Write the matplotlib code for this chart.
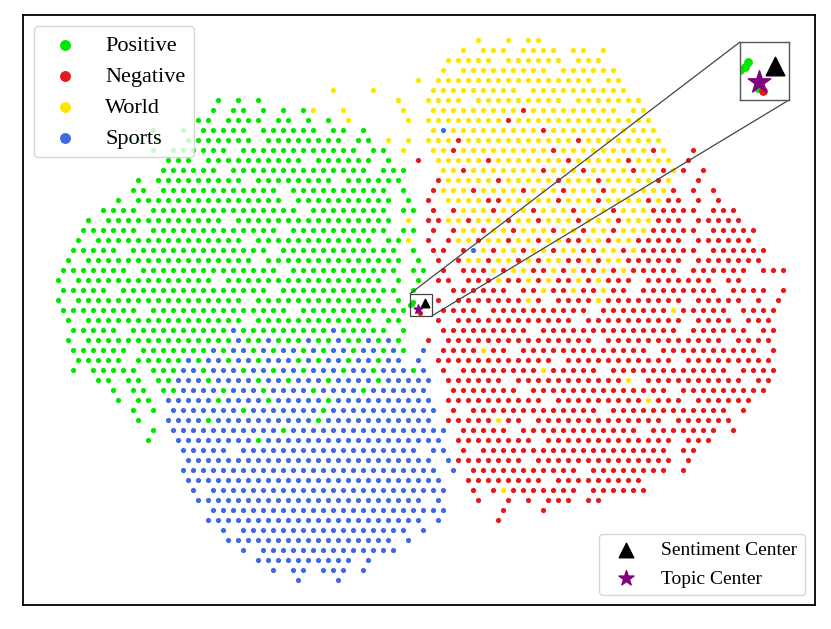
import matplotlib.pyplot as plt
from mpl_toolkits.axes_grid1.inset_locator import mark_inset

plt.rcParams['font.family'] = ['Liberation Serif', 'DejaVu Serif']

labels = ['Positive', 'Negative', 'World', 'Sports']
codes = ['g', 'r', 'y', 'b']
colors = ['#00e600', '#e41a1c', '#ffe600', '#4169e1']

# t-SNE map, top row first.
# each row: list of (first column, class letters), '.' = no point
cloud_rows = [
    [],
    [],
    [(45, "y..y.yy")],
    [(43, "y.yyy.yyyy.yy.y")],
    [(42, "yyyyy.yyyyyy.yyy")],
    [(41, "y.yyyyyyyyy.yyyyyy")],
    [(39, "y.yyyyyyyyyyyyyyyy.yy")],
    [(30, "y...y"), (40, "yyyyyyyyy.yyyyyyyyyy.")],
    [(19, "g.g.g"), (37, "y"), (40, "yyyy.yyyyyyyyy.yyyyyyy")],
    [(18, "g.gg.g.g.g"), (28, "y..y.....y"), (40, "yyyyyyyyyryyyyyyyyy.yy")],
    [(17, "gg.gggg.gg.g.g"), (32, "y.....y"), (40, "yyyyyyyyryyyyyyyyyyyyyy")],
    [(12, "g..g."), (17, "ggggg.gggggg.gg.g"), (40, "ybyyyyyyyyyryyyyyyyyyyy")],
    [(11, "g.g..ggggggg.gggggggg.gg"), (36, "y.y"), (40, "yyyryyyyyyyyyyyryyyyyyyy")],
    [(12, "g.gggggg.gggggggggggg.gg"), (37, "y"), (40, "yyryyyyyyyyyryyyyyyyyyry"), (66, "r")],
    [(14, "ggg.gggggggggg.gggggg.g"), (39, "r."), (41, "yyyyyryyyyyyyryyyyyryyyy"), (66, "r")],
    [(13, "gggggg.gggggggggggggg.ggg"), (41, "yyryyyyyyyryyyryyyyryyry"), (65, "r.r")],
    [(11, "g.ggggggggg.gggggggg.gggggg"), (41, "ryyyyyryyyyyryyyryyyyyry"), (66, ".r")],
    [(10, "gg.gggggggggggg.gggggggggg.g"), (40, "ryyyryyyyryyyryyyryyyyyy"), (64, "r.r.r")],
    [(9, "g.ggggggggggggggg.gggggggggg.g"), (40, "r.yyyyrryyyyyryyyryyyyryrr.r.r")],
    [(7, "gggg.ggggggggggggggg.gggggggg.gg"), (40, "r.ryyyryyyryyyryyyryyyrrrrr.rrr")],
    [(6, "g.gggggggggggg.gggggggggggggggg.y"), (40, "rryyryyyryyryyyryyyryyyrrr.rrrrr")],
    [(5, "gggggg.ggggggggggggg.gggggggggg.gg"), (40, "r.ryyryyryyyryyryyryyyrrrrr.rrrrr")],
    [(5, "g.ggggggggggggggg.gggggggggggg.ggy"), (40, "r.ryyryyryyryyrryyryyrrrrr.rrrrrr")],
    [(4, "ggggg.gggggggggggggg.gggggggggggg.g"), (40, "rr.rbyryyryyryyrryyryrrrrrr.rrrrrr")],
    [(4, "g.ggggggggggggggggg.gggggggggggggg.g"), (41, "r.ryyryyryryyrryryyrrrrrr.rrrrrrr")],
    [(3, "ggggggg.gggggggggggggg.ggggggggggg.gg"), (41, "r.rrryryyrryryrryryrrrrr.rrrrrr.rrr")],
    [(3, "g.gggggggggggggg.gggggggggggggggg.g.g"), (41, "rr.rrryrryryrryryrrr.rrrrrrr.rr")],
    [(3, "ggggg.ggggggggggggggg.gggggggggggg.g"), (42, "rrrrrr.rryrryrryrr.rrrrrrrr.rrrr.r")],
    [(3, "g.ggggggggggggggggg.ggggggggggggg.g"), (41, "r.rrrrrrryr.rrrryrrrrrrrr.rrrrr.r.r")],
    [(3, "gggggggg.gggggggggggggg.ggggggggggg"), (41, "rrrr.rrrrrrrrrr.rrrrrrryrrrrr.rrrr")],
    [(4, "g.gggggggggggggggg.gggggggggggg.gg"), (41, "r.rrrrrrrrrrrr.rrrrrrrrrr.rrrr.rrr")],
    [(4, "ggggg.ggggggggggbgggggggggbggggg.g"), (41, "rrrrrrrrr.rrrrrrrrrrrrrr.rrrrrr.rr")],
    [(4, "g.gggggggggggggggbggbgggbggbggbgbg"), (40, "r.rrrrrrrrrrrrrrr.rrrrrrrrrrrr.rrrr")],
    [(4, "gggggg.gggggggbgbbgbgbbgbgbbgbbgbg.b"), (41, "rrrryrr.rrrrrrrrrrrrr.rrrrrrrrrr.r")],
    [(5, "ggggg.gggggbgbbgbbgbbbgbgbbgbbgbb.b"), (41, "rrrrrrrrrrrr.rrrrrrrrrrr.rrrrrrrrr")],
    [(4, "g.ggggg.gggbbgbbbgbbgbbgbbbgbbgbbbgb"), (41, "r.rrrrrrrryrrrrr.rrrrrrrrrrrr.rrrr")],
    [(7, "gg.gg.ggbbbgbbbbgbbgbbbgbbbbgbbbbb"), (42, "rrrrrr.rrrrrrrrrrry.rrrrrrrrrr.rr")],
    [(8, "g.gg.ggbbbbgbbbgbbbbgbbbbgbbbbbb"), (41, ".rrrrrrr.rrrrrrrrrrrrrr.rrrrrrrrr")],
    [(9, "g.gg.bbbbbgbbbbgbbbbbgbbbbbbbbbb"), (42, "rrrrrrrrrr.rrrrrrrrryrrr.rrrrrr")],
    [(10, "g.g.bbbbbbbgbbbbbbbgbbbbbbbbbbb"), (42, "r.rrrrrrrrrrrrr.rrrrrrrrrrrr.r")],
    [(11, "g..bbbbgbbbbbbbbbbgbbbbbbbbbbb"), (42, "rrrrryrr.rrrrrrrrrrrrr.rrrrrr")],
    [(12, "g.bbbbbbbbbbbgbbbbbbbbbbbbbbbb"), (43, "rrrrr.rrrrrrrrrrrr.rrrrrrr.r")],
    [(12, "g..bbbbbbbbgbbbbbbbbbbbbbbbbbb"), (43, "rrrrrrrr.rrrrrrrrrrrrr.rrr")],
    [(15, "bbbbb.bbbbbbbbbbbbbbbbbb.bb"), (43, "r.rrrrrrrrrrrrrrrrrrr.rr")],
    [(15, ".bbbbbbbbbbbbbbbbbbbbbbbbb.b"), (43, "rrrrrrr.rrrrrrrrrrrrrr.r")],
    [(15, "bbbbbbbbbbbbbbbbbbbbbbbbbb.b"), (44, "rrrrrrrrrrr.rrrrrrrr.r")],
    [(16, "bbbbbbbbbbbbbbbbbbbbbbbbbb"), (44, "rrrrrrrr.rrrrrrrrr")],
    [(16, "b.bbbbbbbbbbbbbbbbbbbbbbbb"), (44, "r.ryrrrrrrr.rrrrrr")],
    [(17, "bbbbbbbbbbbbbbbbbbbbbbb.b"), (45, "r..r.r.rrr.rr")],
    [(17, ".bbbbbbbbbbbbbbbbbbbbbbbb"), (47, "r...r")],
    [(18, "bbbbbbbbbbbbbbbbbbbbbb.b"), (47, "r")],
    [(19, "b.bbbbbbbbbbbbbbbbb.b")],
    [(20, "bbbbbbbbbbbbbbbbb.b")],
    [(21, "b.bbbbbbbbbbbbbb")],
    [(23, "bbbbbbbbbb.b")],
    [(24, "b.bb.bbb.b")],
    [(27, "b...b")],
    [],
    [],
]

# points right next to the two centres (visible in the zoom box)
near_x = [38.53, 38.40, 38.17, 38.98, 39.20]
near_y = [-28.16, -28.35, -28.46, -29.14, -29.26]
near_cls = ['g', 'g', 'g', 'g', 'r']

sentiment_center = (39.74, -28.31)
topic_center = (39.02, -28.92)

# zoom box limits
box_x = (38.17, 40.37)
box_y = (-29.6, -27.4)

pts = {c: ([], []) for c in codes}
for r, segs in enumerate(cloud_rows):
    shift = 0.5 if r % 2 else 0.0
    for start, s in segs:
        for k, ch in enumerate(s):
            if ch in pts:
                pts[ch][0].append(start + k + shift)
                pts[ch][1].append(-r)
for x, y, c in zip(near_x, near_y, near_cls):
    pts[c][0].append(x)
    pts[c][1].append(y)

fig = plt.figure(figsize=(8.31, 6.29), dpi=100)
ax = fig.add_axes([23 / 831, 24 / 629, 792 / 831, 590 / 629])

handles = []
for lab, c, col in zip(labels, codes, colors):
    h = ax.scatter(pts[c][0], pts[c][1], s=14, color=col, label=lab, linewidths=0)
    handles.append(h)

tri = ax.scatter([sentiment_center[0]], [sentiment_center[1]], marker='^', s=38,
                 color='black', label='Sentiment Center', zorder=5)
star = ax.scatter([topic_center[0]], [topic_center[1]], marker='*', s=45,
                  color='purple', label='Topic Center', zorder=5)

ax.set_xlim(-0.5, 78.7)
ax.set_ylim(-58.5, 0.5)
ax.set_xticks([])
ax.set_yticks([])
for sp in ax.spines.values():
    sp.set_linewidth(1.3)

leg1 = ax.legend(handles=handles, loc='upper left', fontsize=16, markerscale=2.1,
                 labelspacing=0.47)
ax.add_artist(leg1)
ax.legend(handles=[tri, star], loc='lower right', fontsize=14, markerscale=1.7,
          labelspacing=0.55)

# zoomed view
axins = fig.add_axes([740 / 831, (629 - 100) / 629, 49 / 831, 58 / 629])
for c, col in zip(codes, colors):
    axins.scatter(pts[c][0], pts[c][1], s=40, color=col, linewidths=0)
axins.scatter([sentiment_center[0]], [sentiment_center[1]], marker='^', s=180,
              color='black', zorder=5)
axins.scatter([topic_center[0]], [topic_center[1]], marker='*', s=290,
              color='purple', zorder=5)
axins.set_xlim(*box_x)
axins.set_ylim(*box_y)
axins.set_xticks([])
axins.set_yticks([])
for sp in axins.spines.values():
    sp.set_edgecolor('#555555')
    sp.set_linewidth(1.0)

mark_inset(ax, axins, loc1=2, loc2=4, fc='none', ec='#444444', lw=0.9)

fig.savefig('out.png', dpi=100)
